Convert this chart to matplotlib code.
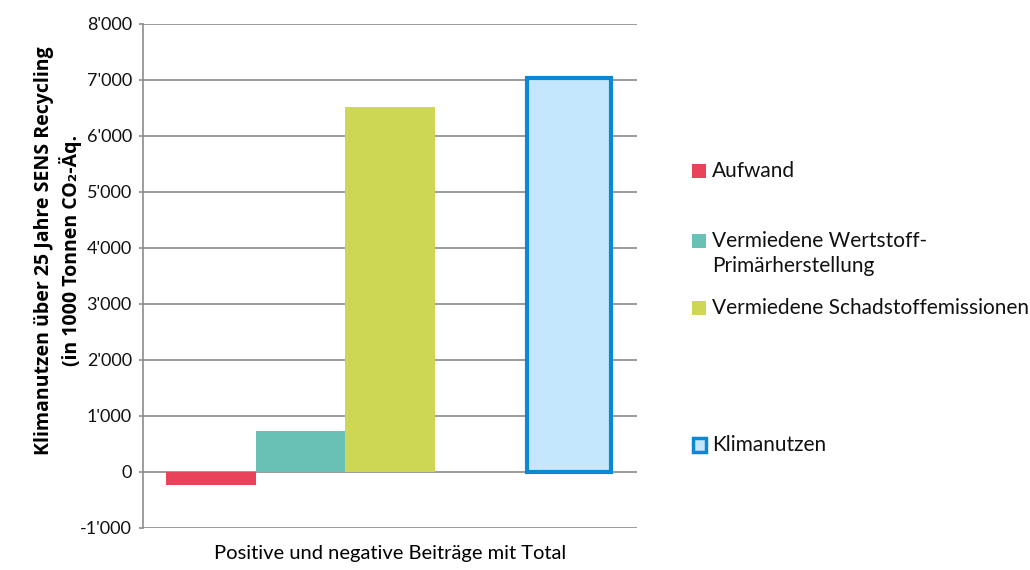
import matplotlib
matplotlib.use("Agg")
import matplotlib.pyplot as plt
from matplotlib.patches import Rectangle
from matplotlib.ticker import FuncFormatter

# data (1000 t CO2-eq over 25 years)
series = ["Aufwand", "Vermiedene Wertstoff-\nPrimärherstellung",
          "Vermiedene Schadstoffemissionen", "Klimanutzen"]
values = [-230, 730, 6520, 7040]
slots = [0, 1, 2, 4]          # Excel leaves an empty slot before the total
colors = ["#e8435a", "#69c0b4", "#cdd754", "#c5e7fd"]
edge_total = "#0a88d4"

plt.rcParams['font.family'] = ['Lato', 'DejaVu Sans']

fig = plt.figure(figsize=(10.30, 5.70), dpi=100)
ax = fig.add_axes([143 / 1030, 1 - 528 / 570, (637 - 143) / 1030, (528 - 24) / 570])

for i in range(3):
    ax.bar(slots[i], values[i], width=1.0, color=colors[i], zorder=3)
ax.bar(slots[3], values[3], width=0.94, color=colors[3], edgecolor=edge_total,
       linewidth=3, zorder=3)

ax.set_xlim(-0.76, 4.76)
ax.set_ylim(-1000, 8000)
ax.set_yticks(range(-1000, 8001, 1000))
ax.yaxis.set_major_formatter(FuncFormatter(lambda v, p: f"{int(v):,}".replace(",", "'")))
ax.grid(axis="y", color="#8c8c8c", linewidth=1.2, zorder=0)
ax.set_xticks([])
for s in ["top", "right", "bottom"]:
    ax.spines[s].set_visible(False)
ax.spines["left"].set_color("#8c8c8c")
ax.spines["left"].set_linewidth(1.2)
ax.tick_params(axis="y", labelsize=13, color="#8c8c8c", length=3, width=1.2,
               labelcolor="#111111", pad=5)

ax.set_ylabel("Klimanutzen über 25 Jahre SENS Recycling\n(in 1000 Tonnen CO₂-Äq.",
              fontsize=14, fontweight="bold", linespacing=1.25,
              family=['Open Sans', 'DejaVu Sans'])
ax.yaxis.set_label_coords(-(143 - 82) / 494, 0.55)
ax.set_xlabel("Positive und negative Beiträge mit Total", fontsize=14.5, labelpad=12)

# legend, placed manually like the Excel layout
leg_text_y = [171, 241, 308, 445]
for i in range(4):
    y = 1 - leg_text_y[i] / 570
    if i == 3:
        fig.add_artist(Rectangle((693 / 1030, y - 7 / 570), 13 / 1030, 14 / 570,
                                 facecolor=colors[3], edgecolor=edge_total, linewidth=2.5,
                                 transform=fig.transFigure))
    else:
        fig.add_artist(Rectangle((692 / 1030, y - 7 / 570), 14 / 1030, 14 / 570,
                                 facecolor=colors[i], edgecolor="none",
                                 transform=fig.transFigure))
    fig.text(712 / 1030, y, series[i].split("\n")[0], fontsize=15,
             va="center", ha="left", color="#111111")
    if "\n" in series[i]:
        fig.text(712 / 1030, 1 - 266 / 570, series[i].split("\n")[1], fontsize=15,
                 va="center", ha="left", color="#111111")

fig.savefig("out.png", dpi=100)
